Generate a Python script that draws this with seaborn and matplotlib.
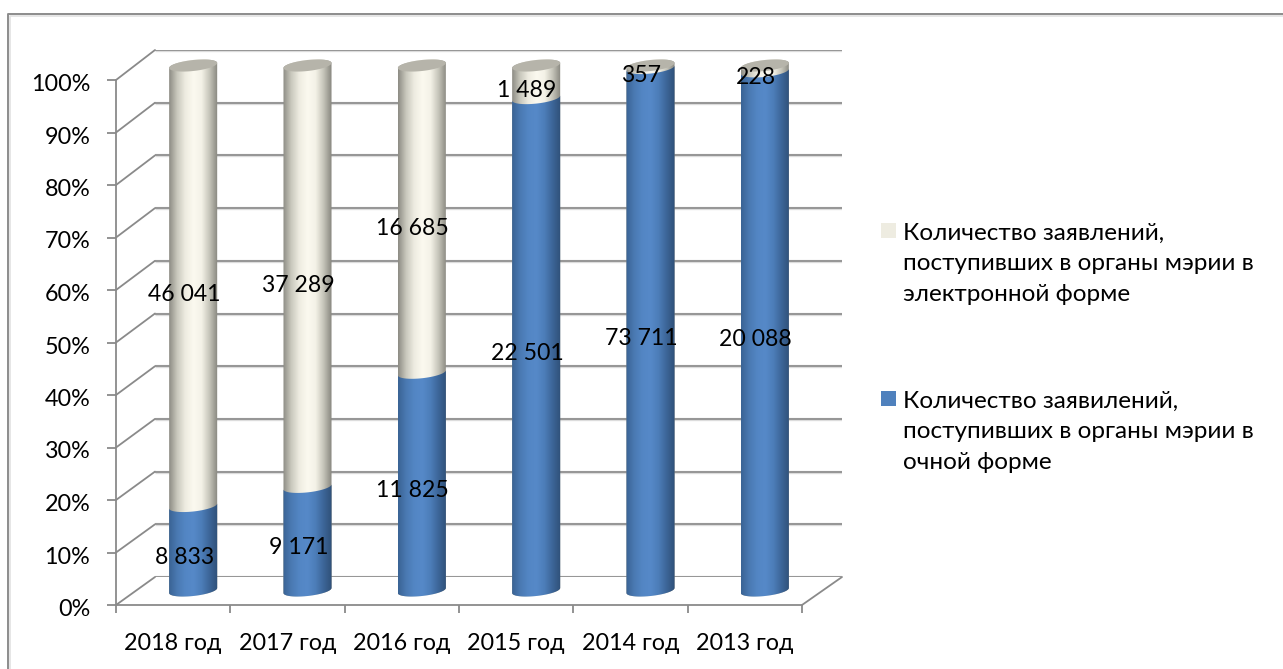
import numpy as np
import pandas as pd
import matplotlib
matplotlib.use("Agg")
import matplotlib.pyplot as plt
import seaborn as sns
from matplotlib.colors import LinearSegmentedColormap
from matplotlib.lines import Line2D
from matplotlib.patches import ConnectionPatch, PathPatch, Polygon, Rectangle
from matplotlib.path import Path
from matplotlib.transforms import ScaledTranslation

# ── Data ────────────────────────────────────────────────────────────────────
years = ["2018 год", "2017 год", "2016 год", "2015 год", "2014 год", "2013 год"]
in_person = [8833, 9171, 11825, 22501, 73711, 20088]
electronic = [46041, 37289, 16685, 1489, 357, 228]
y_ticks = list(range(0, 101, 10))
legend_electronic = "Количество заявлений,\nпоступивших в органы мэрии в\nэлектронной форме"
legend_in_person = "Количество заявилений,\nпоступивших в органы мэрии в\nочной форме"

df = pd.DataFrame({"year": years, "in_person": in_person, "electronic": electronic})
df["total"] = df["in_person"] + df["electronic"]
df["in_person_pct"] = df["in_person"] / df["total"] * 100
df["full"] = 100.0

# ── Layout (pixels) ─────────────────────────────────────────────────────────
W, H = 1283, 669
LINE = "#8a8a8a"
FONT = ["Lato", "Open Sans", "DejaVu Sans"]
sns.set_style("white")
plt.rcParams["font.family"] = FONT


def rect(left, top, right, bottom):
    return [left / W, 1 - bottom / H, (right - left) / W, (bottom - top) / H]


fig = plt.figure(figsize=(W / 100, H / 100), dpi=100, facecolor="white")
back = fig.add_axes(rect(155, 50, 842, 577), zorder=1)
# middle plane runs -5..105 so the elliptical ends of the cylinders are not cut off
mid = fig.add_axes(rect(136, 39.25, 822, 616.75), zorder=2)
front = fig.add_axes(rect(116, 80, 802, 605), zorder=3)
for a in (back, front):
    a.patch.set_alpha(0)
    a.set_xlim(-0.5, 5.5)
    a.set_ylim(0, 100)
mid.patch.set_alpha(0)

# ── Back wall and floor ─────────────────────────────────────────────────────
back.hlines(y_ticks, -0.5, 5.5, color="#dcdcdc", lw=2.4)
back.hlines(y_ticks, -0.5, 5.5, color=LINE, lw=1.2)
back.axis("off")

for v in y_ticks:
    fig.add_artist(ConnectionPatch((-0.5, v), (-0.5, v), front.transData, back.transData,
                                   color=LINE, lw=1.3, zorder=1))
fig.add_artist(ConnectionPatch((5.5, 0), (5.5, 0), front.transData, back.transData,
                               color=LINE, lw=1.3, zorder=1))

# ── Cylinders ───────────────────────────────────────────────────────────────
sns.barplot(data=df, x="year", y="full", width=0.42, color="#f3f1e6", ax=mid)
sns.barplot(data=df, x="year", y="in_person_pct", width=0.42, color="#4f81bd", ax=mid)
bars = list(mid.patches)
cream_bars, blue_bars = bars[:6], bars[6:]

cream_cmap = LinearSegmentedColormap.from_list(
    "cream", ["#8c8b83", "#c9c8bd", "#eeece1", "#fbf9ef", "#f4f2e7", "#c4c3b8", "#86857d"])
blue_cmap = LinearSegmentedColormap.from_list(
    "blue", ["#3a6394", "#4a79b2", "#5386c4", "#5689c8", "#4c7db8", "#3c6597", "#2f5078"])

B = 1.05   # ellipse half height, in percent
TILT = 0.48
t = np.linspace(np.pi, 2 * np.pi, 40)


def arc(bar, level, upper=False):
    xc = bar.get_x() + bar.get_width() / 2
    a = bar.get_width() / 2
    sign = -1 if upper else 1
    return np.column_stack([xc + a * np.cos(t), level + TILT * np.cos(t) + sign * B * np.sin(t)])


def draw_body(bar, cmap, top_upper, zorder):
    outline = np.vstack([arc(bar, 0), arc(bar, bar.get_height(), upper=top_upper)[::-1]])
    clip = PathPatch(Path(np.vstack([outline, outline[0]])), transform=mid.transData,
                     fc="none", ec="none")
    mid.add_patch(clip)
    im = mid.imshow(np.linspace(0, 1, 256).reshape(1, -1), cmap=cmap, aspect="auto",
                    extent=(bar.get_x(), bar.get_x() + bar.get_width(), -5, 105), zorder=zorder)
    im.set_clip_path(clip)
    bar.set_visible(False)


for bar in cream_bars:
    draw_body(bar, cream_cmap, True, 2)
    cap = np.vstack([arc(bar, 100), arc(bar, 100, upper=True)[::-1]])
    mid.add_patch(Polygon(cap, closed=True, fc="#b6b4aa", ec="none", zorder=3))
for bar in blue_bars:
    draw_body(bar, blue_cmap, False, 4)

mid.set_xlim(-0.5, 5.5)
mid.set_ylim(-5, 105)
mid.axis("off")

# ── Value labels ────────────────────────────────────────────────────────────
for i, row in df.iterrows():
    pct = row["in_person_pct"]
    for val, center in [(row["in_person"], pct / 2), (row["electronic"], (pct + 100) / 2)]:
        mid.annotate(f"{int(val):,}".replace(",", " "), (i, center), xytext=(-9, -9),
                     textcoords="offset pixels", ha="center", va="center",
                     fontsize=16.6, color="black", zorder=6, annotation_clip=False)

# ── Front axes: spines, ticks, labels ───────────────────────────────────────
sns.despine(ax=front, top=True, right=True)
for side in ("left", "bottom"):
    front.spines[side].set_color(LINE)
    front.spines[side].set_linewidth(1.3)
front.set_yticks(y_ticks)
front.set_yticklabels([f"{v}%" for v in y_ticks], fontsize=16.8, color="black")
front.tick_params(axis="y", length=6.5, width=1.3, color=LINE, pad=12, left=True)
front.set_xticks(np.arange(6))
front.set_xticklabels(years, fontsize=16.8, color="black")
front.set_xticks(np.arange(-0.5, 6), minor=True)
front.tick_params(axis="x", which="minor", length=6, width=1.3, color=LINE, bottom=True)
front.tick_params(axis="x", which="major", length=0, pad=20)
shift = ScaledTranslation(0, -2.5 / 100, fig.dpi_scale_trans)
for lab in front.get_yticklabels():
    lab.set_transform(lab.get_transform() + shift)

# ── Legend ──────────────────────────────────────────────────────────────────
for top, color, label in [(223, "#eeece1", legend_electronic), (391, "#4f81bd", legend_in_person)]:
    fig.add_artist(Rectangle((881 / W, 1 - (top + 15) / H), 15 / W, 15 / H,
                             transform=fig.transFigure, fc=color, ec="none"))
    fig.text(903 / W, 1 - top / H, label, ha="left", va="top",
             fontsize=17.5, linespacing=1.55, color="black")

# ── Chart frame ─────────────────────────────────────────────────────────────
fig.add_artist(Line2D([10 / W, 10 / W, 1], [0, 1 - 16 / H, 1 - 16 / H],
                      transform=fig.transFigure, color="#e2e2e2", lw=1.2))
fig.add_artist(Line2D([8 / W, 8 / W, 1], [0, 1 - 14 / H, 1 - 14 / H],
                      transform=fig.transFigure, color="#8c8c8c", lw=1.4))

fig.savefig("out.png", dpi=100)
